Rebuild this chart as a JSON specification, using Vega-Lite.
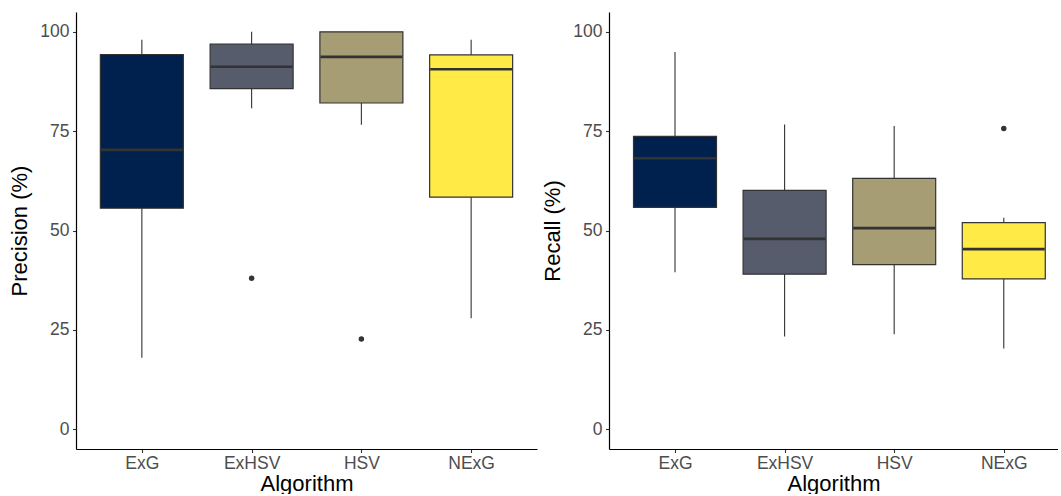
{
  "$schema": "https://vega.github.io/schema/vega-lite/v6.json",
  "padding": {"left": 8, "top": 12, "right": 0, "bottom": 0},
  "spacing": 4,
  "datasets": {
    "boxes": [
      {"metric": "Precision", "Algorithm": "ExG", "lower": 18.0, "q1": 55.6, "median": 70.3, "q3": 94.3, "upper": 98.0},
      {"metric": "Precision", "Algorithm": "ExHSV", "lower": 80.8, "q1": 85.7, "median": 91.2, "q3": 96.9, "upper": 100.0},
      {"metric": "Precision", "Algorithm": "HSV", "lower": 76.6, "q1": 82.1, "median": 93.7, "q3": 100.0, "upper": 100.0},
      {"metric": "Precision", "Algorithm": "NExG", "lower": 27.9, "q1": 58.4, "median": 90.6, "q3": 94.2, "upper": 98.0},
      {"metric": "Recall", "Algorithm": "ExG", "lower": 39.5, "q1": 55.8, "median": 68.2, "q3": 73.7, "upper": 94.9},
      {"metric": "Recall", "Algorithm": "ExHSV", "lower": 23.3, "q1": 39.0, "median": 47.9, "q3": 60.1, "upper": 76.7},
      {"metric": "Recall", "Algorithm": "HSV", "lower": 23.9, "q1": 41.4, "median": 50.6, "q3": 63.1, "upper": 76.3},
      {"metric": "Recall", "Algorithm": "NExG", "lower": 20.3, "q1": 37.8, "median": 45.3, "q3": 52.0, "upper": 53.2}
    ],
    "outliers": [
      {"metric": "Precision", "Algorithm": "ExHSV", "value": 38.0},
      {"metric": "Precision", "Algorithm": "HSV", "value": 22.7},
      {"metric": "Recall", "Algorithm": "NExG", "value": 75.7}
    ]
  },
  "config": {
    "view": {"stroke": null},
    "font": "Liberation Sans",
    "axis": {
      "grid": false,
      "domainColor": "#000000",
      "domainWidth": 1.2,
      "tickColor": "#333333",
      "tickWidth": 1.1,
      "tickSize": 3.5,
      "labelColor": "#4D4D4D",
      "labelFont": "Liberation Sans",
      "labelFontSize": 17.5,
      "titleFont": "Liberation Sans",
      "titleFontSize": 22,
      "titleFontWeight": "normal",
      "titleColor": "#000000"
    }
  },
  "hconcat": [
    {
      "width": 461,
      "height": 437,
      "layer": [
        {
          "data": {"name": "boxes"},
          "transform": [{"filter": "datum.metric === 'Precision'"}],
          "mark": {"type": "rule", "color": "#333333", "strokeWidth": 1.1},
          "encoding": {
            "x": {"field": "Algorithm", "type": "nominal", "scale": {"type": "point", "padding": 0.6, "domain": ["ExG", "ExHSV", "HSV", "NExG"]}, "axis": {"title": "Algorithm", "labelAngle": 0, "labelPadding": 2, "titlePadding": 1}},
            "y": {"field": "lower", "type": "quantitative", "scale": {"domain": [-5, 105], "nice": false, "zero": false}, "axis": {"title": "Precision (%)", "values": [0, 25, 50, 75, 100], "labelPadding": 3.5, "titlePadding": 8}},
            "y2": {"field": "upper"}
          }
        },
        {
          "data": {"name": "boxes"},
          "transform": [{"filter": "datum.metric === 'Precision'"}],
          "mark": {"type": "bar", "size": 83, "stroke": "#333333", "strokeWidth": 1.2},
          "encoding": {
            "x": {"field": "Algorithm", "type": "nominal"},
            "y": {"field": "q1", "type": "quantitative"},
            "y2": {"field": "q3"},
            "color": {"field": "Algorithm", "type": "nominal", "scale": {"domain": ["ExG", "ExHSV", "HSV", "NExG"], "range": ["#00204D", "#575C6D", "#A69D75", "#FFEA46"]}, "legend": null}
          }
        },
        {
          "data": {"name": "boxes"},
          "transform": [{"filter": "datum.metric === 'Precision'"}],
          "mark": {"type": "tick", "size": 82, "thickness": 2.6, "color": "#333333", "opacity": 1},
          "encoding": {
            "x": {"field": "Algorithm", "type": "nominal"},
            "y": {"field": "median", "type": "quantitative"}
          }
        },
        {
          "data": {"name": "outliers"},
          "transform": [{"filter": "datum.metric === 'Precision'"}],
          "mark": {"type": "circle", "size": 30, "color": "#333333", "opacity": 1},
          "encoding": {
            "x": {"field": "Algorithm", "type": "nominal"},
            "y": {"field": "value", "type": "quantitative"}
          }
        }
      ]
    },
    {
      "width": 449,
      "height": 437,
      "layer": [
        {
          "data": {"name": "boxes"},
          "transform": [{"filter": "datum.metric === 'Recall'"}],
          "mark": {"type": "rule", "color": "#333333", "strokeWidth": 1.1},
          "encoding": {
            "x": {"field": "Algorithm", "type": "nominal", "scale": {"type": "point", "padding": 0.5485, "align": 0.549, "domain": ["ExG", "ExHSV", "HSV", "NExG"]}, "axis": {"title": "Algorithm", "labelAngle": 0, "labelPadding": 2, "titlePadding": 1}},
            "y": {"field": "lower", "type": "quantitative", "scale": {"domain": [-5, 105], "nice": false, "zero": false}, "axis": {"title": "Recall (%)", "values": [0, 25, 50, 75, 100], "labelPadding": 3.5, "titlePadding": 8}},
            "y2": {"field": "upper"}
          }
        },
        {
          "data": {"name": "boxes"},
          "transform": [{"filter": "datum.metric === 'Recall'"}],
          "mark": {"type": "bar", "size": 83, "stroke": "#333333", "strokeWidth": 1.2},
          "encoding": {
            "x": {"field": "Algorithm", "type": "nominal"},
            "y": {"field": "q1", "type": "quantitative"},
            "y2": {"field": "q3"},
            "color": {"field": "Algorithm", "type": "nominal", "scale": {"domain": ["ExG", "ExHSV", "HSV", "NExG"], "range": ["#00204D", "#575C6D", "#A69D75", "#FFEA46"]}, "legend": null}
          }
        },
        {
          "data": {"name": "boxes"},
          "transform": [{"filter": "datum.metric === 'Recall'"}],
          "mark": {"type": "tick", "size": 82, "thickness": 2.6, "color": "#333333", "opacity": 1},
          "encoding": {
            "x": {"field": "Algorithm", "type": "nominal"},
            "y": {"field": "median", "type": "quantitative"}
          }
        },
        {
          "data": {"name": "outliers"},
          "transform": [{"filter": "datum.metric === 'Recall'"}],
          "mark": {"type": "circle", "size": 30, "color": "#333333", "opacity": 1},
          "encoding": {
            "x": {"field": "Algorithm", "type": "nominal"},
            "y": {"field": "value", "type": "quantitative"}
          }
        }
      ]
    }
  ]
}
